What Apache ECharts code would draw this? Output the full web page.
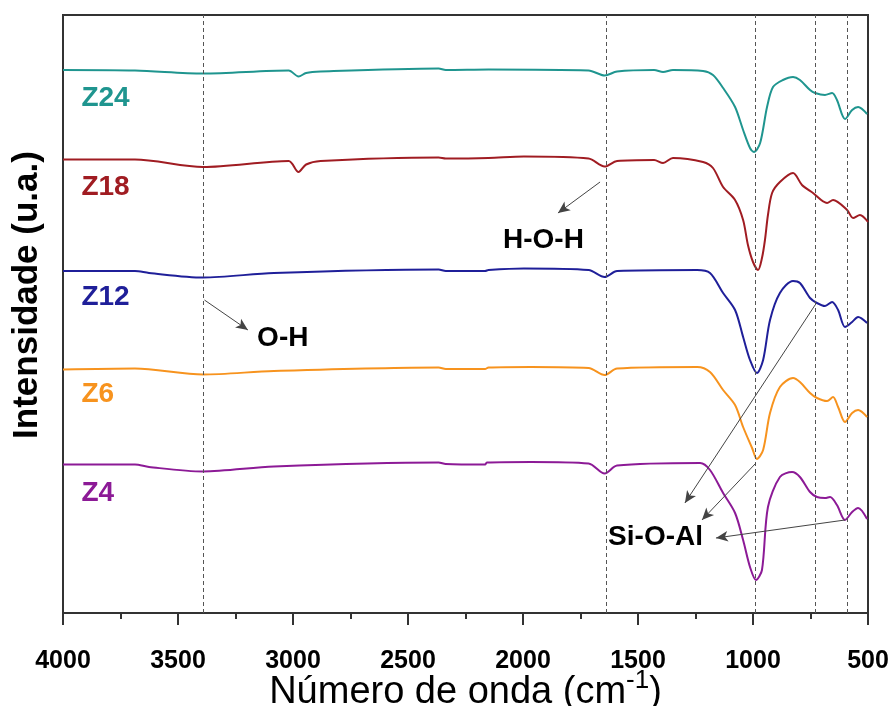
<!DOCTYPE html>
<html>
<head>
<meta charset="utf-8">
<script src="https://cdn.jsdelivr.net/npm/echarts@6/dist/echarts.min.js"></script>
<style>
html,body{margin:0;padding:0;background:#fff;}
#chart{width:889px;height:706px;}
</style>
</head>
<body>
<div id="chart"></div>
<script>
// Wavenumber (cm-1) / intensity (a.u.) pairs
const Z24 = [[4000,108.6],[3687,108.5],[3391,107.9],[3019,108.5],[2976,107.3],[2943,108.0],[2880,108.3],[2367,108.9],[2336,108.6],[2150,108.7],[1715,108.5],[1645,107.5],[1591,108.3],[1430,108.6],[1391,108.2],[1348,108.6],[1217,108.4],[1174,107.6],[1130,105],[1078,101.2],[1043,96.6],[1013,93],[996,92.2],[969,94],[939,101.2],[913,105.2],[870,106.6],[826,107.2],[796,106.6],[752,104.6],[730,104],[687,103.6],[656,104],[635,102.6],[600,98.8],[569,100.6],[543,101.2],[504,99.8]];
const Z18 = [[4000,90.7],[3687,90.7],[3391,89.2],[3019,90.4],[2976,88.2],[2943,89.7],[2880,90.4],[2367,91.1],[2336,90.9],[2150,91.0],[1996,91.3],[1715,90.9],[1645,89.3],[1591,90.4],[1430,90.6],[1391,90.0],[1348,91.0],[1217,90.2],[1174,89],[1130,85.2],[1078,82.6],[1043,78.6],[1022,73.6],[1000,70.2],[978,68.6],[961,71],[948,74.6],[935,79.6],[917,84],[883,86.2],[826,88],[787,85.6],[739,84],[678,82],[652,82.6],[591,80.6],[565,79],[535,79.6],[500,78.2]];
const Z12 = [[4000,68.4],[3687,68.4],[3626,68],[3391,67.1],[3083,68],[2367,68.7],[2336,68.4],[2165,68.4],[2150,68.6],[1996,68.9],[1715,68.6],[1645,67.2],[1591,68.4],[1243,68.6],[1187,68],[1130,64],[1078,60.6],[1043,55.2],[1013,50.6],[983,48],[956,50.6],[926,58.6],[883,64],[826,66.4],[796,66],[752,63],[722,62],[687,61.4],[656,62.2],[630,60.6],[600,57.2],[569,58.2],[543,59.2],[504,58]];
const Z6 = [[4000,48.7],[3687,48.9],[3391,47.7],[3083,48.4],[2367,49.1],[2336,48.8],[2165,48.8],[2150,49.1],[1965,49.2],[1715,49.0],[1645,47.6],[1591,48.9],[1243,49.2],[1187,48.2],[1130,44.6],[1078,41.6],[1043,37.2],[1004,33],[983,30.8],[956,32.6],[926,40],[883,45.2],[826,47],[796,46.2],[752,44],[722,43],[678,42.4],[652,43.2],[630,41.2],[600,38.2],[569,40],[543,40.6],[504,39.2]];
const Z4 = [[4000,29.7],[3687,29.7],[3626,29.2],[3391,28.3],[3083,29.3],[2367,30.1],[2336,29.8],[2165,29.7],[2157,30.1],[1965,30.2],[1715,29.9],[1645,27.9],[1591,29.5],[1230,30],[1187,28.6],[1130,24],[1078,20],[1043,14.6],[1013,9.2],[987,6.6],[961,8.6],[935,21.2],[883,27.2],[830,28.2],[796,27.2],[752,24.2],[722,23.2],[687,23],[665,23.2],[635,21.6],[600,18.6],[569,20.2],[543,21],[504,18.8]];

const seriesNames = ['Z24','Z18','Z12','Z6','Z4'];
const seriesData = [Z24, Z18, Z12, Z6, Z4];
const bandLines = [3390, 1640, 990, 730, 590];
const xTicks = [500, 1000, 1500, 2000, 2500, 3000, 3500, 4000];

const colors = ['#1f958f','#a01c22','#1f1f99','#f7931e','#8c1a96'];
const FONT = "'Liberation Sans', Arial, sans-serif";

const chart = echarts.init(document.getElementById('chart'), null, {renderer:'canvas'});

const series = seriesNames.map((n, i) => ({
  name: n, type: 'line', data: seriesData[i], showSymbol: false, smooth: 0.3,
  lineStyle: {color: colors[i], width: 2}, itemStyle: {color: colors[i]}, z: 3
}));

series.push({
  name: 'refs', type: 'line', data: [], silent: true,
  markLine: {
    silent: true, symbol: ['none','none'], label: {show: false},
    lineStyle: {type: [4,3], color: '#555', width: 1},
    data: bandLines.map(v => ({xAxis: v}))
  }
});

const arrows = [
  [[3385,62.6],[3196,56.6]],
  [[1665,86.2],[1848,80]],
  [[730,61.6],[1296,22]],
  [[987,30],[1222,18.6]],
  [[600,18.6],[1161,15]]
];
series.push({
  name: 'arrows', type: 'line', data: [], silent: true,
  markLine: {
    silent: true, symbol: ['none','arrow'], symbolSize: [8,12], label: {show: false},
    lineStyle: {type: 'solid', color: '#444', width: 1},
    data: arrows.map(a => [{coord: a[0]}, {coord: a[1]}])
  }
});

chart.setOption({
  backgroundColor: '#fff',
  animation: false,
  grid: {left: 63, right: 21, top: 15, bottom: 93, show: true, borderColor: '#333', borderWidth: 2,
    containLabel: false, outerBoundsMode: 'none'},
  xAxis: {
    type: 'value', inverse: true, min: 500, max: 4000, interval: 500,
    axisLine: {show: true, lineStyle: {color: '#333', width: 2}},
    axisTick: {show: true, inside: false, length: 12, lineStyle: {color: '#333', width: 2}},
    minorTick: {show: true, splitNumber: 2, length: 6, lineStyle: {color: '#333', width: 2}},
    splitLine: {show: false},
    axisLabel: {fontFamily: FONT, fontWeight: 'bold', fontSize: 25, color: '#000', margin: 36,
      formatter: v => xTicks.includes(v) ? String(v) : ''},
    name: '{a|Número de onda (cm}{s|-1}{a|)}',
    nameLocation: 'middle', nameGap: 55, nameMoveOverlap: false,
    nameTextStyle: {
      rich: {
        a: {fontFamily: FONT, fontSize: 38, color: '#000', fontWeight: 'normal'},
        s: {fontFamily: FONT, fontSize: 26, color: '#000', fontWeight: 'normal', padding: [0,0,24,0]}
      }
    }
  },
  yAxis: {
    type: 'value', min: 0, max: 119.6,
    axisLine: {show: true, lineStyle: {color: '#333', width: 2}},
    axisTick: {show: false}, axisLabel: {show: false}, splitLine: {show: false},
    name: 'Intensidade (u.a.)', nameLocation: 'middle', nameGap: 18, nameMoveOverlap: false,
    nameTextStyle: {fontFamily: FONT, fontWeight: 'bold', fontSize: 35, color: '#000', padding: [0,0,0,38]}
  },
  series: series
});

const labels = [
  {text: 'Z24', at: [3920, 103], color: colors[0]},
  {text: 'Z18', at: [3920, 85.2], color: colors[1]},
  {text: 'Z12', at: [3920, 63.2], color: colors[2]},
  {text: 'Z6', at: [3920, 43.8], color: colors[3]},
  {text: 'Z4', at: [3920, 24], color: colors[4]},
  {text: 'O-H', at: [3156, 55], color: '#000'},
  {text: 'H-O-H', at: [2087, 74.6], color: '#000'},
  {text: 'Si-O-Al', at: [1630, 15.2], color: '#000'}
];
chart.setOption({
  graphic: labels.map(l => {
    const p = chart.convertToPixel({xAxisIndex: 0, yAxisIndex: 0}, l.at);
    return {type: 'text', x: p[0], y: p[1], z: 10, silent: true,
      style: {text: l.text, fill: l.color, font: 'bold 28px ' + FONT, textAlign: 'left', textVerticalAlign: 'middle'}};
  })
});
</script>
</body>
</html>
